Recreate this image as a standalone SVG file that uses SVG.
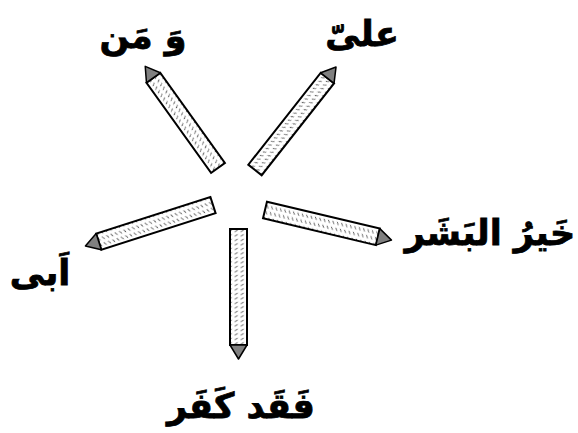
<svg xmlns="http://www.w3.org/2000/svg" width="578" height="433" viewBox="0 0 578 433">
<style>
.lbl{font-family:"DejaVu Sans",sans-serif;font-weight:bold;font-size:35px;fill:#000;stroke:#000;stroke-width:0.8;text-anchor:middle;direction:rtl}
.body{fill:url(#hatch);stroke:#000;stroke-width:2}
.tip{fill:#808080;stroke:#000;stroke-width:1.5;stroke-linejoin:round}
</style>
<defs>
<pattern id="hatch" width="4.5" height="6" patternUnits="userSpaceOnUse">
<rect width="4.5" height="6" fill="#fff"/>
<line x1="1" y1="0.8" x2="2.8" y2="3.8" stroke="#222" stroke-width="0.8"/>
</pattern>
</defs>
<rect width="578" height="433" fill="#fff"/>
<g id="connectors">
<g transform="translate(218,168) rotate(-125.6)"><rect class="body" x="0" y="-8.5" width="111" height="17"/><path class="tip" d="M111,-8.5 L125,0 L111,8.5 Z"/></g>
<g transform="translate(255,170) rotate(-51.8)"><rect class="body" x="0" y="-8.5" width="117" height="17"/><path class="tip" d="M117,-8.5 L131,0 L117,8.5 Z"/></g>
<g transform="translate(213,205) rotate(162.2)"><rect class="body" x="0" y="-8.5" width="120" height="17"/><path class="tip" d="M120,-8.5 L134,0 L120,8.5 Z"/></g>
<g transform="translate(265,210) rotate(13.4)"><rect class="body" x="0" y="-8.5" width="116" height="17"/><path class="tip" d="M116,-8.5 L130,0 L116,8.5 Z"/></g>
<g transform="translate(238.5,229) rotate(90)"><rect class="body" x="0" y="-8.5" width="116" height="17"/><path class="tip" d="M116,-8.5 L130,0 L116,8.5 Z"/></g>
</g>
<g id="n1"><text class="lbl" x="143" y="48">وَ مَن</text></g>
<g id="n2"><text class="lbl" x="362" y="46">علىّ</text></g>
<g id="n3"><text class="lbl" x="40" y="285">اَبى</text></g>
<g id="n4"><text class="lbl" x="490" y="245">خَيرُ البَشَر</text></g>
<g id="n5"><text class="lbl" x="241" y="418">فَقَد كَفَر</text></g>
</svg>
